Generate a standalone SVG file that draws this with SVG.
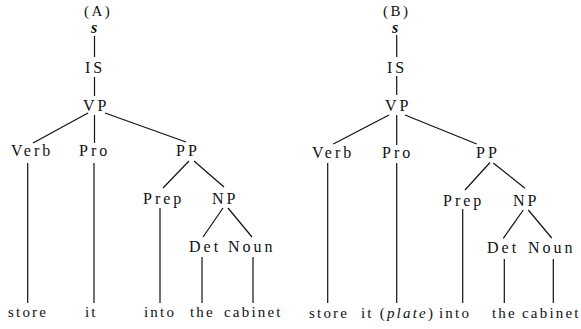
<svg xmlns="http://www.w3.org/2000/svg" width="581" height="329" viewBox="0 0 581 329" font-family="Liberation Serif, Times New Roman, serif">
  <style>
    text { font-family: 'Liberation Serif', 'Times New Roman', serif; fill: #111; }
    .cat { font-size: 16px; letter-spacing: 3px; }
    .word { font-size: 15px; letter-spacing: 2.2px; }
    .tag { font-size: 15px; letter-spacing: 2.5px; }
    .root { font-size: 16px; font-style: italic; font-weight: bold; }
    .edges line { stroke: #111; stroke-width: 1.2; }
  </style>
  <rect width="581" height="329" fill="#fff"/>

  <!-- Tree A -->
  <g id="treeA">
    <g id="A-label"><text class="tag" x="84" y="16">(A)</text></g>
    <g id="A-s"><text class="root" x="91" y="33">s</text></g>
    <g id="A-IS"><text class="cat" x="85" y="73">IS</text></g>
    <g id="A-VP"><text class="cat" x="83" y="111">VP</text></g>
    <g id="A-Verb"><text class="cat" x="11" y="156">Verb</text></g>
    <g id="A-Pro"><text class="cat" x="79" y="156">Pro</text></g>
    <g id="A-PP"><text class="cat" x="176" y="156">PP</text></g>
    <g id="A-Prep"><text class="cat" x="143" y="204">Prep</text></g>
    <g id="A-NP"><text class="cat" x="212" y="204">NP</text></g>
    <g id="A-Det"><text class="cat" x="189" y="252">Det</text></g>
    <g id="A-Noun"><text class="cat" x="228" y="252">Noun</text></g>
    <g id="A-store"><text class="word" x="8" y="317">store</text></g>
    <g id="A-it"><text class="word" x="85" y="317">it</text></g>
    <g id="A-into"><text class="word" x="144" y="317">into</text></g>
    <g id="A-the"><text class="word" x="190" y="317">the</text></g>
    <g id="A-cabinet"><text class="word" x="224" y="317">cabinet</text></g>
  </g>

  <!-- Tree B -->
  <g id="treeB">
    <g id="B-label"><text class="tag" x="383" y="16">(B)</text></g>
    <g id="B-s"><text class="root" x="392" y="33">s</text></g>
    <g id="B-IS"><text class="cat" x="387" y="73">IS</text></g>
    <g id="B-VP"><text class="cat" x="385" y="111">VP</text></g>
    <g id="B-Verb"><text class="cat" x="312" y="158">Verb</text></g>
    <g id="B-Pro"><text class="cat" x="382" y="158">Pro</text></g>
    <g id="B-PP"><text class="cat" x="476" y="158">PP</text></g>
    <g id="B-Prep"><text class="cat" x="443" y="206">Prep</text></g>
    <g id="B-NP"><text class="cat" x="513" y="206">NP</text></g>
    <g id="B-Det"><text class="cat" x="487" y="253">Det</text></g>
    <g id="B-Noun"><text class="cat" x="528" y="253">Noun</text></g>
    <g id="B-store"><text class="word" x="309" y="318">store</text></g>
    <g id="B-it"><text class="word" x="361" y="318" letter-spacing="1.6">it (<tspan font-style="italic">plate</tspan>)</text></g>
    <g id="B-into"><text class="word" x="439" y="318">into</text></g>
    <g id="B-the"><text class="word" x="492" y="318">the</text></g>
    <g id="B-cabinet"><text class="word" x="522" y="318">cabinet</text></g>
  </g>

  <!-- Edges -->
  <g id="connectors" class="edges">
    <!-- tree A -->
    <line x1="94.5" y1="36" x2="94.5" y2="57"/>
    <line x1="94.5" y1="77" x2="94.5" y2="96"/>
    <line x1="88" y1="113" x2="33" y2="143"/>
    <line x1="94.5" y1="115" x2="94.5" y2="143"/>
    <line x1="105" y1="113" x2="186" y2="142"/>
    <line x1="189" y1="161" x2="163" y2="188"/>
    <line x1="194" y1="161" x2="224" y2="187"/>
    <line x1="27.7" y1="163" x2="27.7" y2="303"/>
    <line x1="94" y1="163" x2="94" y2="303"/>
    <line x1="160" y1="208" x2="160" y2="303"/>
    <line x1="223" y1="208" x2="203" y2="237"/>
    <line x1="228" y1="208" x2="252" y2="237"/>
    <line x1="202" y1="257" x2="202" y2="303"/>
    <line x1="253" y1="257" x2="253" y2="303"/>
    <!-- tree B -->
    <line x1="396.7" y1="35" x2="396.7" y2="57"/>
    <line x1="396.7" y1="76" x2="396.7" y2="95"/>
    <line x1="389" y1="115" x2="333.3" y2="144"/>
    <line x1="396.7" y1="115" x2="396.7" y2="145"/>
    <line x1="405" y1="115" x2="476.7" y2="144"/>
    <line x1="490" y1="162.5" x2="465" y2="190"/>
    <line x1="493.3" y1="163" x2="525" y2="188.3"/>
    <line x1="327.7" y1="163" x2="327.7" y2="303"/>
    <line x1="396.7" y1="163" x2="396.7" y2="303"/>
    <line x1="462.7" y1="209" x2="462.7" y2="303"/>
    <line x1="523.3" y1="210" x2="503.3" y2="238.3"/>
    <line x1="528.3" y1="210" x2="551.7" y2="238"/>
    <line x1="504.3" y1="259" x2="504.3" y2="303"/>
    <line x1="553.3" y1="259" x2="553.3" y2="303"/>
  </g>
</svg>
